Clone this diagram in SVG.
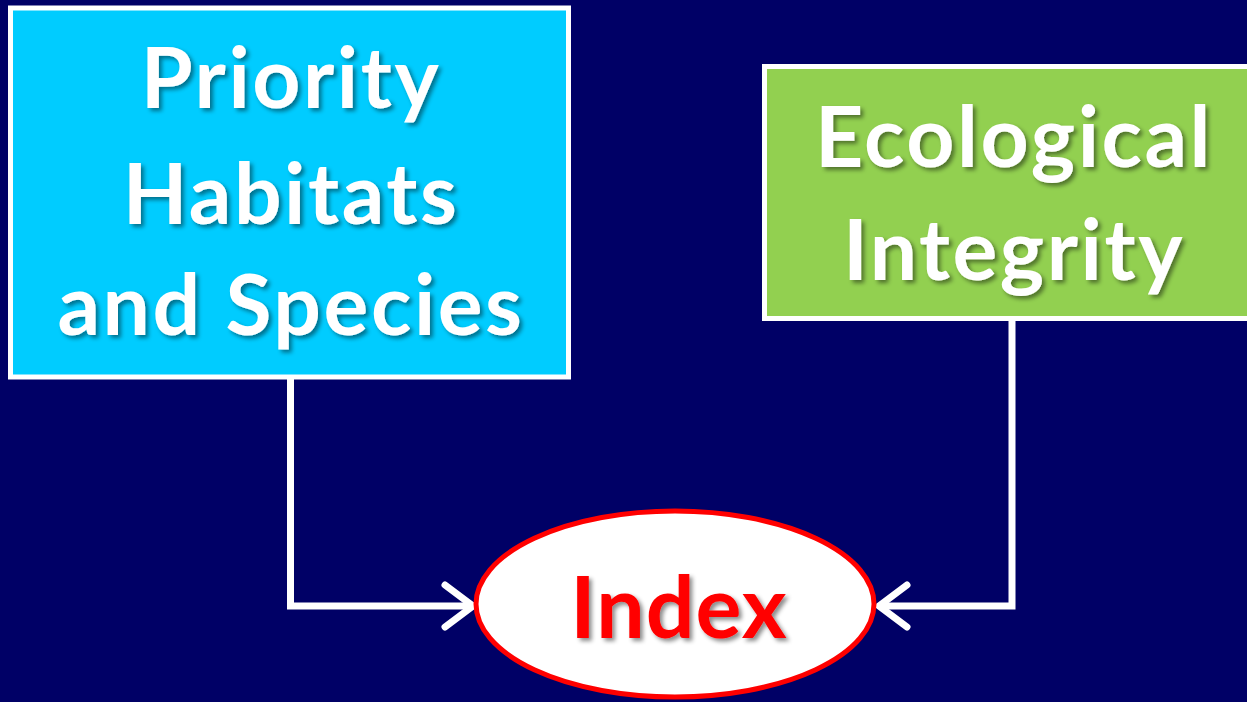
<svg xmlns="http://www.w3.org/2000/svg" width="1247" height="702" viewBox="0 0 1247 702">
<defs>
<filter id="sh" x="-10%" y="-10%" width="130%" height="130%">
<feDropShadow dx="3" dy="3" stdDeviation="2" flood-color="#000000" flood-opacity="0.45"/>
</filter>
<marker id="arr" viewBox="0 0 40 50" refX="34" refY="25" markerWidth="40" markerHeight="50" markerUnits="userSpaceOnUse" orient="auto">
<polyline points="6,4 34,25 6,46" fill="none" stroke="#FFFFFF" stroke-width="7" stroke-linecap="round" stroke-linejoin="round"/>
</marker>
</defs>
<style>
.lbl{font-family:"Lato","Liberation Sans",sans-serif;font-weight:bold;text-anchor:middle;filter:url(#sh)}
.w{fill:#FFFFFF;font-size:84px;letter-spacing:2.5px}
.conn{fill:none;stroke:#FFFFFF;stroke-width:7;stroke-linejoin:miter}
</style>
<rect x="0" y="0" width="1247" height="702" fill="#000066"/>
<g id="connectors">
<path class="conn" d="M290.5,378 V606 H473" marker-end="url(#arr)"/>
<path class="conn" d="M1012,320 V606 H879" marker-end="url(#arr)"/>
</g>
<g id="priority">
<rect x="10.5" y="8" width="558" height="369" fill="#00CCFF" stroke="#FFFFFF" stroke-width="5"/>
<text class="lbl w"><tspan x="291" y="108">Priority</tspan><tspan x="291" y="224">Habitats</tspan><tspan x="291" y="335">and Species</tspan></text>
</g>
<g id="ecological">
<rect x="764.5" y="66.5" width="500" height="252" fill="#92D050" stroke="#FFFFFF" stroke-width="5"/>
<text class="lbl w"><tspan x="1014" y="167">Ecological</tspan><tspan x="1014" y="280">Integrity</tspan></text>
</g>
<g id="index">
<ellipse cx="675" cy="604" rx="199" ry="93" fill="#FFFFFF" stroke="#FF0000" stroke-width="5"/>
<text class="lbl" fill="#FF0000" font-size="86" letter-spacing="1" x="679" y="638">Index</text>
</g>
</svg>
